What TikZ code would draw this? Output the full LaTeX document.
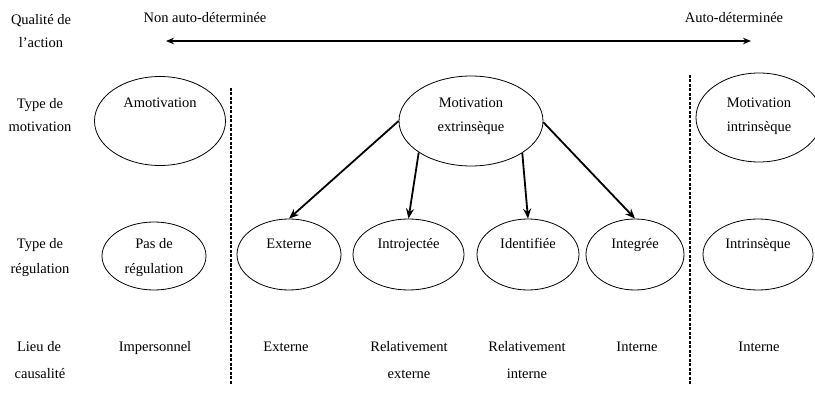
\documentclass[tikz,border=0pt]{standalone}
\usepackage{fontspec}
\setmainfont{Liberation Serif}
\usetikzlibrary{shapes.geometric,arrows.meta}
\newcommand{\fsz}{\fontsize{14.5}{17}\selectfont}
\tikzset{
  txt/.style={anchor=base, inner sep=0pt, font=\fsz},
  ell/.style={draw, ellipse, line width=0.8pt, inner sep=0pt},
  arr/.style={line width=1.8pt, -{Stealth[length=10pt,width=8pt]}},
  dbl/.style={line width=1.8pt, {Stealth[length=8pt,width=6.5pt]}-{Stealth[length=8pt,width=6.5pt]}},
  sepline/.style={line width=1.5pt, dash pattern=on 3pt off 1.5pt}
}
\begin{document}
\begin{tikzpicture}[x=1pt,y=-1pt]
\useasboundingbox (0,0) rectangle (815,393);
% row labels
\node[txt] (q1) at (41,25) {Qualité de};
\node[txt] (q2) at (41,48) {l’action};
\node[txt] (t1) at (40,109) {Type de};
\node[txt] (t2) at (40,132) {motivation};
\node[txt] (r1) at (40,248) {Type de};
\node[txt] (r2) at (40,273) {régulation};
\node[txt] (l1) at (39,351) {Lieu de};
\node[txt] (l2) at (40,378) {causalité};
% top
\node[txt] (nad) at (205,23) {Non auto-déterminée};
\node[txt] (ad) at (734,23) {Auto-déterminée};
\coordinate (aL) at (166,41);
\coordinate (aR) at (751,41);
\draw[dbl] (aL) -- (aR);
% separators
\coordinate (s1t) at (231,88);
\coordinate (s1b) at (231,384);
\coordinate (s2t) at (690,75);
\coordinate (s2b) at (690,384);
\draw[sepline] (s1t) -- (s1b);
\draw[sepline] (s2t) -- (s2b);
% motivation ellipses
\node[ell, minimum width=131, minimum height=89] (amot) at (160,121) {};
\node[ell, minimum width=144, minimum height=90] (mext) at (471,121) {};
\node[ell, minimum width=126, minimum height=89] (mint) at (759,117.5) {};
\node[txt] (amotT) at (160,108) {Amotivation};
\node[txt] (mext1) at (471,108) {Motivation};
\node[txt] (mext2) at (471,132) {extrinsèque};
\node[txt] (mint1) at (759,108) {Motivation};
\node[txt] (mint2) at (759,132) {intrinsèque};
% regulation ellipses
\node[ell, minimum width=104, minimum height=68] (pas) at (154,256) {};
\node[ell, minimum width=104, minimum height=71] (ext) at (289,254.5) {};
\node[ell, minimum width=111, minimum height=71] (intro) at (408.5,254.5) {};
\node[ell, minimum width=102, minimum height=71] (ident) at (528,254.5) {};
\node[ell, minimum width=98, minimum height=71] (integ) at (635,254.5) {};
\node[ell, minimum width=110, minimum height=71] (intr) at (758,254.5) {};
\node[txt] (pas1) at (154,248) {Pas de};
\node[txt] (pas2) at (154,273) {régulation};
\node[txt] (extT) at (289,248) {Externe};
\node[txt] (introT) at (408.5,248) {Introjectée};
\node[txt] (identT) at (528,248) {Identifiée};
\node[txt] (integT) at (635,248) {Integrée};
\node[txt] (intrT) at (758,248) {Intrinsèque};
% arrows
\draw[arr] (mext.180) -- (ext.north);
\draw[arr] (mext.211) -- (intro.north);
\draw[arr] (mext.328) -- (ident.north);
\draw[arr] (mext.359) -- (integ.north);
% causality row
\node[txt] (c1) at (155,351) {Impersonnel};
\node[txt] (c2) at (286,351) {Externe};
\node[txt] (c3a) at (409,351) {Relativement};
\node[txt] (c3b) at (409,378) {externe};
\node[txt] (c4a) at (527,351) {Relativement};
\node[txt] (c4b) at (527,378) {interne};
\node[txt] (c5) at (637,351) {Interne};
\node[txt] (c6) at (759,351) {Interne};
\end{tikzpicture}
\end{document}
